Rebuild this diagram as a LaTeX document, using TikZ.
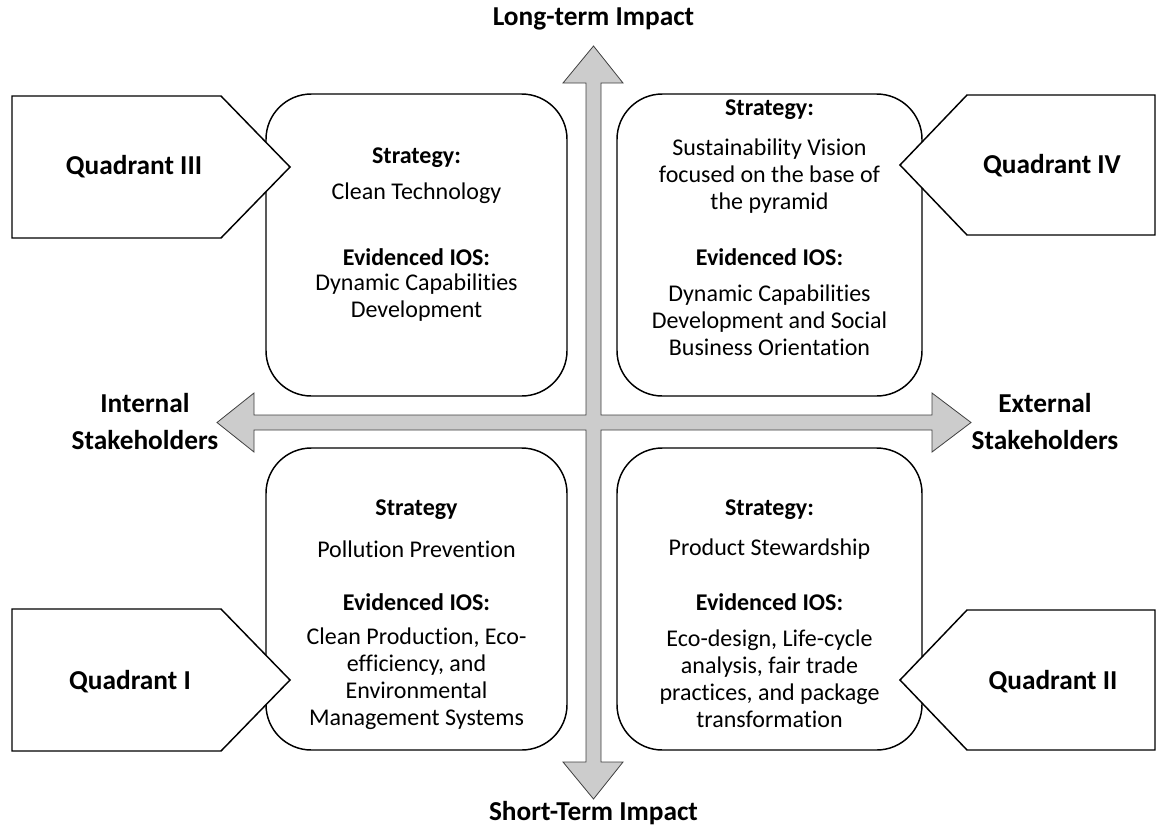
\documentclass[tikz,border=0pt]{standalone}
\usepackage{fontspec}
\setmainfont{Carlito}[Ligatures=NoCommon]
\usetikzlibrary{positioning,calc}

\tikzset{
  quadbox/.style={draw, line width=1.1pt, rounded corners=34pt},
  tagshape/.style={draw, line width=1.1pt, fill=white},
  blockarrow/.style={draw=black!75, line width=0.6pt, fill=black!20},
  head/.style={font=\fontsize{18}{20.25}\selectfont\bfseries},
  body/.style={align=center, font=\fontsize{18}{20.25}\selectfont},
  axislabel/.style={align=center, font=\fontsize{20.5}{27.75}\selectfont\bfseries},
  quadlabel/.style={font=\fontsize{20.5}{24}\selectfont\bfseries},
}

\begin{document}
\begin{tikzpicture}[x=0.75pt, y=-0.75pt]
    \useasboundingbox (0,0) rectangle (1167,829);

    % Axes (block arrows)
    \coordinate (o) at (593.5,422.5);
    \draw[blockarrow] (593.5,46) -- (623,83) -- (601,83) -- (601,415) -- (932,415)
        -- (932,393) -- (971,422.5) -- (932,452) -- (932,430) -- (601,430)
        -- (601,762) -- (623,762) -- (593.5,799) -- (563,762) -- (586,762)
        -- (586,430) -- (254,430) -- (254,452) -- (217,422.5) -- (254,393)
        -- (254,415) -- (586,415) -- (586,83) -- (563,83) -- cycle;

    \node[axislabel] (long) at (593.5,19) {Long-term Impact};
    \node[axislabel] (short) at (593.5,813) {Short-Term Impact};
    \node[axislabel] (internal) at (145,422) {Internal\\Stakeholders};
    \node[axislabel] (external) at (1045,422) {External\\Stakeholders};

    % Quadrant boxes
    \draw[quadbox] (266,94) rectangle (567,396);
    \draw[quadbox] (617,94) rectangle (922,396);
    \draw[quadbox] (266,448) rectangle (567,750);
    \draw[quadbox] (617,448) rectangle (922,750);

    % Quadrant tags
    \draw[tagshape] (12,96) -- (221,96) -- (290,167) -- (221,238) -- (12,238) -- cycle;
    \draw[tagshape] (12,609) -- (221,609) -- (290,680) -- (221,751) -- (12,751) -- cycle;
    \draw[tagshape] (1155,95) -- (967,95) -- (900,165) -- (967,235) -- (1155,235) -- cycle;
    \draw[tagshape] (1155,610) -- (967,610) -- (900,680) -- (967,750) -- (1155,750) -- cycle;

    \node[quadlabel] (q3) at (134,167) {Quadrant III};
    \node[quadlabel] (q1) at (130,682) {Quadrant I};
    \node[quadlabel] (q4) at (1052,166) {Quadrant IV};
    \node[quadlabel] (q2) at (1053,682) {Quadrant II};

    % Quadrant III text
    \node[head] (s3) at (416.5,158) {Strategy:};
    \node[body] (t3) at (416.5,193) {Clean Technology};
    \node[head] (e3) at (416.5,257) {Evidenced IOS:};
    \node[body] (d3) at (416.5,298) {Dynamic Capabilities\\Development};

    % Quadrant IV text
    \node[head] (s4) at (769.5,110) {Strategy:};
    \node[body] (t4) at (769.5,176) {Sustainability Vision\\focused on the base of\\the pyramid};
    \node[head] (e4) at (769.5,257) {Evidenced IOS:};
    \node[body] (d4) at (769.5,320) {Dynamic Capabilities\\Development and Social\\Business Orientation};

    % Quadrant I text
    \node[head] (s1) at (416.5,510) {Strategy};
    \node[body] (t1) at (416.5,549) {Pollution Prevention};
    \node[head] (e1) at (416.5,602) {Evidenced IOS:};
    \node[body] (d1) at (416.5,679) {Clean Production, Eco-\\efficiency, and\\Environmental\\Management Systems};

    % Quadrant II text
    \node[head] (s2) at (769.5,510) {Strategy:};
    \node[body] (t2) at (769.5,549) {Product Stewardship};
    \node[head] (e2) at (769.5,602) {Evidenced IOS:};
    \node[body] (d2) at (769.5,679) {Eco-design, Life-cycle\\analysis, fair trade\\practices, and package\\transformation};
\end{tikzpicture}
\end{document}
